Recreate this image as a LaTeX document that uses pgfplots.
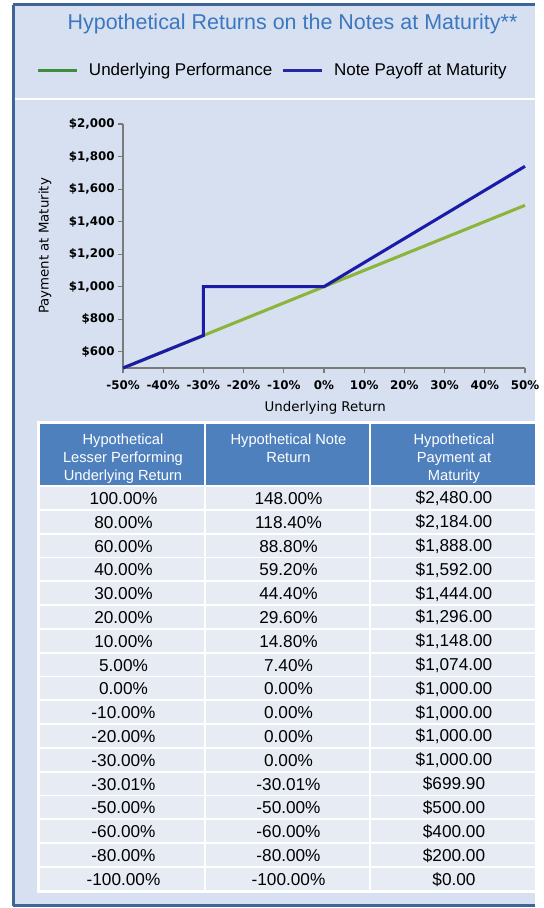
\documentclass[border=0pt]{standalone}
\usepackage{pgfplots}
\pgfplotsset{compat=1.18}
\usepackage{fontspec}
\setmainfont{Liberation Sans}
\newfontfamily\dejavu{DejaVu Sans}

\definecolor{bgblue}{HTML}{D6E0F1}
\definecolor{frameblue}{HTML}{3D6597}
\definecolor{titleblue}{HTML}{3B78BF}
\definecolor{hdrblue}{HTML}{4F80BE}
\definecolor{rowgray}{HTML}{E7ECF4}
\definecolor{linegreen}{HTML}{8DB43A}
\definecolor{lineblue}{HTML}{1B1BAA}
\definecolor{leggreen}{HTML}{3E8E3E}
\definecolor{legblue}{HTML}{2626A6}
\definecolor{axgray}{HTML}{7A7A7A}

\newcommand\trow[4]{%
 \pgfmathsetmacro\yt{487+#1*23.8}%
 \pgfmathsetmacro\yb{\yt+22}%
 \pgfmathsetmacro\yc{\yt+11.6}%
 \fill[rowgray] (40,\yt) rectangle (204,\yb);
 \fill[rowgray] (206,\yt) rectangle (369,\yb);
 \fill[rowgray] (371,\yt) rectangle (535,\yb);
 \node[font=\datafont] at (123.5,\yc) {#2};
 \node[font=\datafont] at (288.5,\yc) {#3};
 \node[font=\datafont] at (454,\yc) {#4};
}
\newcommand\datafont{\fontsize{12.9}{14}\selectfont}
\newcommand\hdrfont{\fontsize{11}{13.6}\selectfont}

\begin{document}
\begin{tikzpicture}
\begin{scope}[x=0.75pt,y=-0.75pt]
 \useasboundingbox (0,0) rectangle (535,908);
 \fill[white] (0,0) rectangle (535,908);
 \fill[bgblue] (13,4) rectangle (535,906);
 \draw[frameblue, line width=2.4pt] (13.5,4.5) -- (13.5,906);
 \draw[frameblue, line width=1.6pt] (12.5,4.5) -- (535,4.5);
 \draw[frameblue, line width=1.6pt] (12.5,905.5) -- (535,905.5);
 \draw[white, line width=1pt] (15,99) -- (535,99);
 % title
 \node[anchor=base, text=titleblue, font=\fontsize{16.1}{18}\selectfont] at (292.5,29) {Hypothetical Returns on the Notes at Maturity**};
 % table
 \fill[white] (37,421) rectangle (535,893);
 \fill[hdrblue] (40,424) rectangle (204,485);
 \fill[hdrblue] (206,424) rectangle (369,485);
 \fill[hdrblue] (371,424) rectangle (535,485);
 \node[text=white, font=\hdrfont, align=center, anchor=north] at (123,429) {Hypothetical\\Lesser Performing\\Underlying Return};
 \node[text=white, font=\hdrfont, align=center, anchor=north] at (288.5,429) {Hypothetical Note\\Return};
 \node[text=white, font=\hdrfont, align=center, anchor=north] at (454,429) {Hypothetical\\Payment at\\Maturity};
 \trow{0}{100.00\%}{148.00\%}{\$2,480.00}
 \trow{1}{80.00\%}{118.40\%}{\$2,184.00}
 \trow{2}{60.00\%}{88.80\%}{\$1,888.00}
 \trow{3}{40.00\%}{59.20\%}{\$1,592.00}
 \trow{4}{30.00\%}{44.40\%}{\$1,444.00}
 \trow{5}{20.00\%}{29.60\%}{\$1,296.00}
 \trow{6}{10.00\%}{14.80\%}{\$1,148.00}
 \trow{7}{5.00\%}{7.40\%}{\$1,074.00}
 \trow{8}{0.00\%}{0.00\%}{\$1,000.00}
 \trow{9}{-10.00\%}{0.00\%}{\$1,000.00}
 \trow{10}{-20.00\%}{0.00\%}{\$1,000.00}
 \trow{11}{-30.00\%}{0.00\%}{\$1,000.00}
 \trow{12}{-30.01\%}{-30.01\%}{\$699.90}
 \trow{13}{-50.00\%}{-50.00\%}{\$500.00}
 \trow{14}{-60.00\%}{-60.00\%}{\$400.00}
 \trow{15}{-80.00\%}{-80.00\%}{\$200.00}
 \trow{16}{-100.00\%}{-100.00\%}{\$0.00}
\end{scope}
\begin{axis}[
  at={(92.25pt,-276pt)}, anchor=south west,
  width=301.5pt, height=183pt, scale only axis,
  xmin=-50, xmax=50, ymin=500, ymax=2000,
  clip=false,
  axis lines*=left,
  axis line style={axgray, line width=0.8pt},
  tick style={axgray, line width=0.8pt},
  tick align=outside,
  major tick length=3.75pt,
  xtick={-50,-40,...,50},
  xticklabels={-50\%,-40\%,-30\%,-20\%,-10\%,0\%,10\%,20\%,30\%,40\%,50\%},
  ytick={600,800,...,2000},
  yticklabels={\$600,\$800,{\$1,000},{\$1,200},{\$1,400},{\$1,600},{\$1,800},{\$2,000}},
  tick label style={font=\dejavu\bfseries\fontsize{8.9}{10}\selectfont, text=black},
  xticklabel style={yshift=-2pt},
  yticklabel style={xshift=1pt},
  xlabel={Underlying Return},
  ylabel={Payment at Maturity},
  label style={font=\dejavu\fontsize{10}{12}\selectfont},
  xlabel style={at={(axis description cs:0.503,-0.165)}, anchor=center},
  ylabel style={at={(axis description cs:-0.194,0.5)}, anchor=center},
  legend style={at={(axis description cs:0.373,1.221)}, anchor=center, draw=none, fill=none,
    font=\fontsize{12.75}{15}\selectfont, legend columns=2,
    /tikz/every even column/.append style={column sep=5pt}},
  legend image code/.code={\draw[#1, line width=2.2pt] (0pt,0pt) -- (29pt,0pt); \path (36pt,0pt);},
]
\addlegendimage{leggreen}
\addlegendentry{Underlying Performance}
\addlegendimage{legblue}
\addlegendentry{Note Payoff at Maturity}
\addplot[forget plot, linegreen, line width=2.3pt] coordinates {(-50,500) (50,1500)};
\addplot[forget plot, lineblue, line width=2.3pt] coordinates {(-50,500) (-30,700) (-30,1000) (0,1000) (50,1740)};
\end{axis}
\end{tikzpicture}
\end{document}
